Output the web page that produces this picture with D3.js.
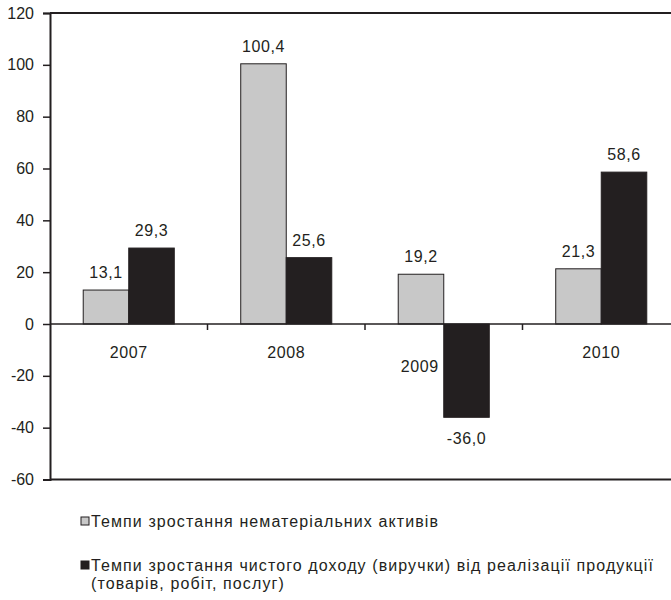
<!DOCTYPE html>
<html>
<head>
<meta charset="utf-8">
<script src="https://cdn.jsdelivr.net/npm/d3@7"></script>
<style>
  body { margin: 0; background: #fff; }
  text { font-family: "Liberation Sans", Arial, sans-serif; fill: #231f20; }
</style>
</head>
<body>
<div id="chart"></div>
<script>
// data
var years = ["2007", "2008", "2009", "2010"]
var seriesNames = [
  "Темпи зростання нематеріальних активів",
  "Темпи зростання чистого доходу (виручки) від реалізації продукції (товарів, робіт, послуг)"
]
var intangibleGrowth = [13.1, 100.4, 19.2, 21.3]
var revenueGrowth = [29.3, 25.6, -36.0, 58.6]
var yTicks = [-60, -40, -20, 0, 20, 40, 60, 80, 100, 120]

var colors = ["#c8c8c8", "#231f20"]
var ink = "#231f20"

var width = 671, height = 600
var margin = {left: 50, top: 13, right: -9, bottom: 120.5}

var svg = d3.select("#chart").append("svg")
  .attr("width", width)
  .attr("height", height)

var rows = years.map(function(y, i) {
  return {year: y, values: [intangibleGrowth[i], revenueGrowth[i]]}
})

// scales
var x = d3.scaleBand()
  .domain(years)
  .range([margin.left, width - margin.right])
  .padding(0)

var x1 = d3.scaleBand()
  .domain([0, 1])
  .range([0, x.bandwidth()])
  .paddingInner(0)
  .paddingOuter(0.73)

var y = d3.scaleLinear()
  .domain([-60, 120])
  .range([height - margin.bottom, margin.top])

var fmt = function(v) { return v.toFixed(1).replace(".", ",") }

// top and bottom frame lines
svg.append("line")
  .attr("x1", margin.left).attr("x2", width)
  .attr("y1", y(120)).attr("y2", y(120))
  .attr("stroke", ink).attr("stroke-width", 2)
svg.append("line")
  .attr("x1", margin.left).attr("x2", width)
  .attr("y1", y(-60)).attr("y2", y(-60))
  .attr("stroke", ink).attr("stroke-width", 2)

// bars
var groups = svg.selectAll("g.year")
  .data(rows)
  .enter()
  .append("g")
    .attr("class", "year")
    .attr("transform", function(d) { return "translate(" + x(d.year) + ",0)" })

groups.selectAll("rect")
  .data(function(d) { return d.values.map(function(v, k) { return {k: k, v: v} }) })
  .enter()
  .append("rect")
    .attr("x", function(d) { return x1(d.k) })
    .attr("width", x1.bandwidth())
    .attr("y", function(d) { return y(Math.max(0, d.v)) })
    .attr("height", function(d) { return Math.abs(y(d.v) - y(0)) })
    .attr("fill", function(d) { return colors[d.k] })
    .attr("stroke", ink)
    .attr("stroke-width", 1)

// value labels
groups.selectAll("text.val")
  .data(function(d) { return d.values.map(function(v, k) { return {k: k, v: v} }) })
  .enter()
  .append("text")
    .attr("class", "val")
    .attr("x", function(d) { return x1(d.k) + x1.bandwidth() / 2 })
    .attr("y", function(d) { return d.v >= 0 ? y(d.v) - 12 : y(d.v) + 27 })
    .attr("text-anchor", "middle")
    .style("font-size", "16px")
    .style("letter-spacing", "0.6px")
    .text(function(d) { return fmt(d.v) })

// zero line with category ticks
svg.append("line")
  .attr("x1", margin.left).attr("x2", width)
  .attr("y1", y(0)).attr("y2", y(0))
  .attr("stroke", ink).attr("stroke-width", 1.5)

svg.selectAll("line.cat")
  .data(years.slice(1))
  .enter()
  .append("line")
    .attr("x1", function(d) { return x(d) }).attr("x2", function(d) { return x(d) })
    .attr("y1", y(0)).attr("y2", y(0) + 6)
    .attr("stroke", ink).attr("stroke-width", 1.5)

// category labels (moved aside when the black bar goes below zero)
groups.append("text")
  .attr("x", function(d) { return d.values[1] < 0 ? x.bandwidth() / 2 - 5 : x.bandwidth() / 2 })
  .attr("y", function(d) { return d.values[1] < 0 ? y(0) + 48 : y(0) + 34 })
  .attr("text-anchor", function(d) { return d.values[1] < 0 ? "end" : "middle" })
  .style("font-size", "16px")
  .style("letter-spacing", "0.6px")
  .text(function(d) { return d.year })

// y axis
var yAxis = svg.append("g")
  .attr("transform", "translate(" + margin.left + ",0)")
  .call(d3.axisLeft(y).tickValues(yTicks).tickSize(7).tickPadding(9)
    .tickFormat(function(d) { return d }))
yAxis.select(".domain").attr("stroke", ink).attr("stroke-width", 2)
yAxis.selectAll(".tick line").attr("stroke", ink).attr("stroke-width", 1.5)
yAxis.selectAll(".tick text")
  .style("font-size", "16px")
  .style("font-family", "'Liberation Sans', Arial, sans-serif")
  .attr("fill", ink)

// legend
var legendY = [527, 571]
var legend = svg.selectAll("g.legend")
  .data(seriesNames)
  .enter()
  .append("g")
    .attr("class", "legend")
    .attr("transform", function(d, i) { return "translate(81," + legendY[i] + ")" })

legend.append("rect")
  .attr("x", 0).attr("y", -10)
  .attr("width", 8).attr("height", 8)
  .attr("fill", function(d, i) { return colors[i] })
  .attr("stroke", ink)
  .attr("stroke-width", 1)

legend.append("text")
  .attr("x", 10)
  .attr("y", 0)
  .style("font-size", "16px")
  .style("letter-spacing", "1.1px")
  .each(function(d) {
    // simple word wrap
    var t = d3.select(this)
    var words = d.split(" ")
    var line = []
    var ts = t.append("tspan").attr("x", 10).attr("dy", 0)
    var maxW = 640
    words.forEach(function(w) {
      line.push(w)
      ts.text(line.join(" "))
      if (ts.node().getComputedTextLength() > maxW && line.length > 1) {
        line.pop()
        ts.text(line.join(" "))
        line = [w]
        ts = t.append("tspan").attr("x", 10).attr("dy", 18).text(w)
      }
    })
  })
</script>
</body>
</html>
